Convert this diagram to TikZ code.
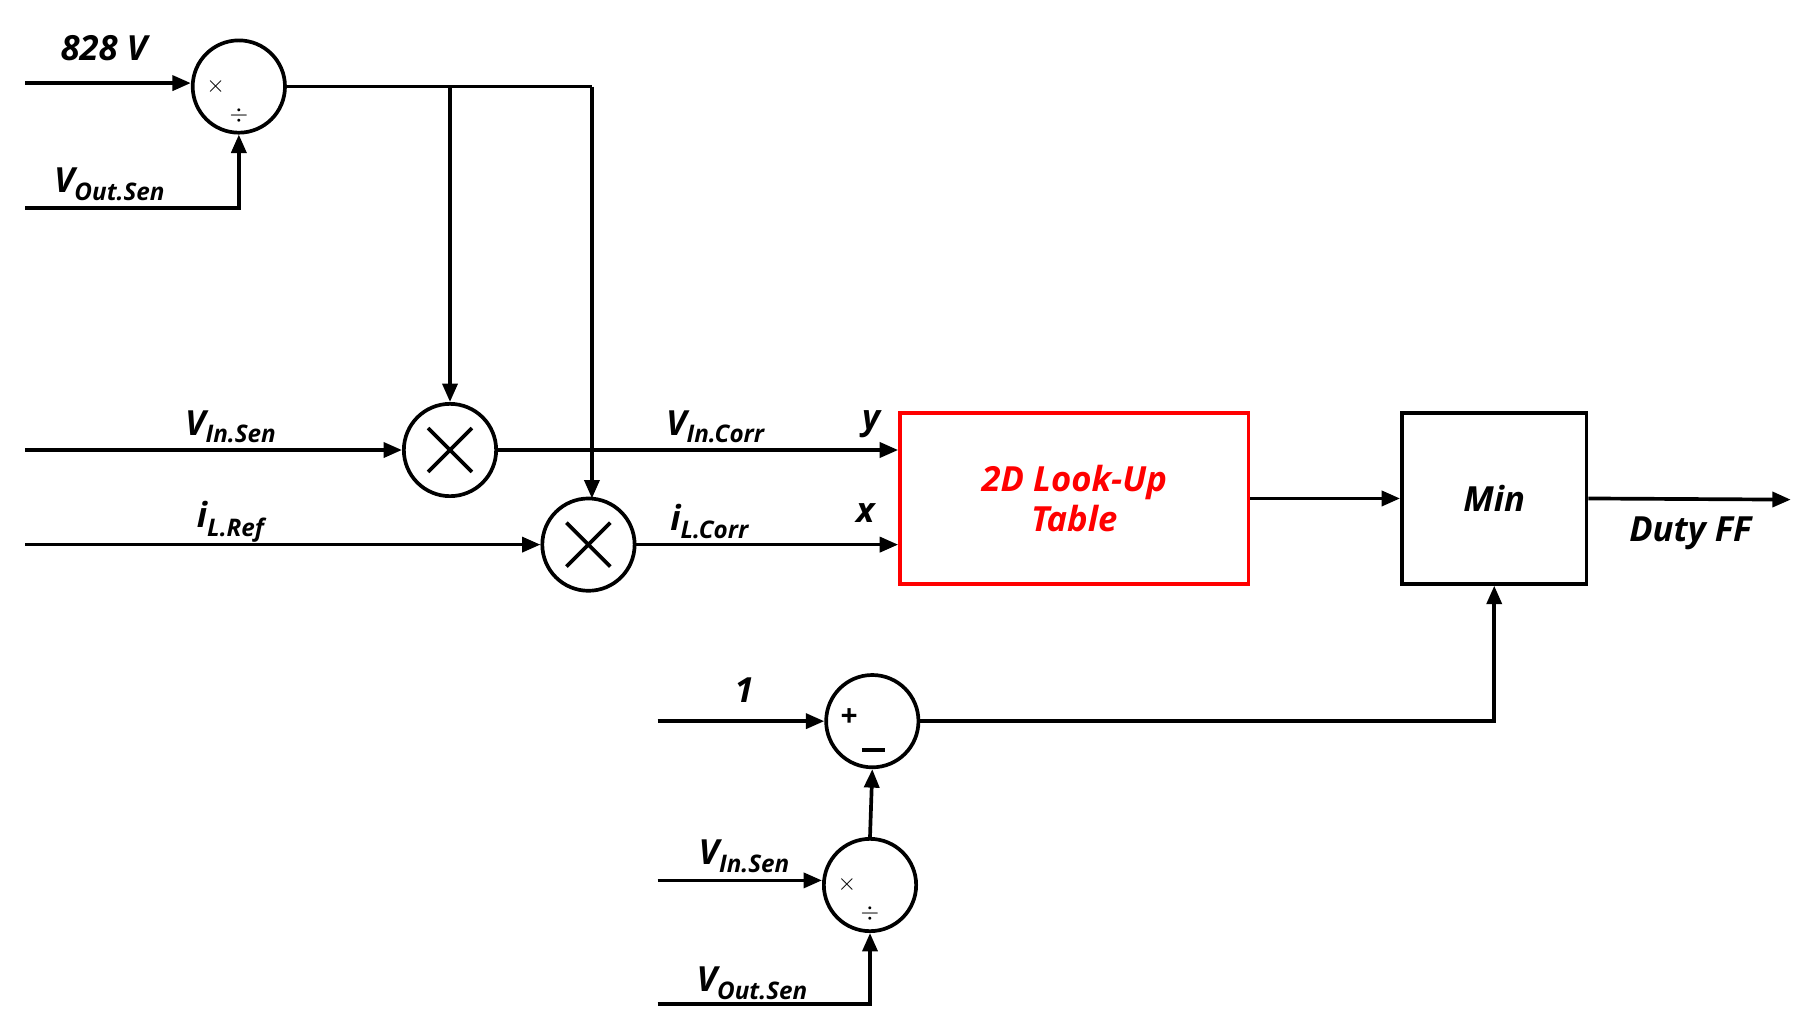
\documentclass[tikz,border=0pt]{standalone}
\usepackage{fontspec}
\setmainfont{Open Sans}
\usetikzlibrary{arrows.meta,calc}
\begin{document}
\begin{tikzpicture}[x=1pt,y=-1pt,line width=3.2pt,
  every node/.style={font=\fontsize{30}{34}\selectfont\bfseries\itshape},
  blk/.style={circle,draw,minimum size=80pt,inner sep=0pt},
  box/.style={draw,rectangle,inner sep=0pt},
  arr/.style={-{Triangle[length=16pt,width=13pt]}},
  lab/.style={inner sep=0pt}]
\useasboundingbox (0,0) rectangle (1560,889);
\node[blk] (d1) at (207,75) {};
\node[blk] (m1) at (390,390) {};
\node[blk] (m2) at (510,472) {};
\node[blk] (s1) at (756,625) {};
\node[blk] (d2) at (754,767) {};
\node[box,draw=red,minimum width=302pt,minimum height=148pt,text=red,align=center] (lut) at (931,432) {2D Look-Up\\Table};
\node[box,minimum width=160pt,minimum height=148pt] (mn) at (1295,432) {Min};
% signs
\node[lab,font=\fontsize{22}{24}\selectfont\bfseries] at ($(d1)+(-20,0)$) {$\times$};
\node[lab,font=\fontsize{22}{24}\selectfont\bfseries] at ($(d1)+(0,25)$) {$\div$};
\node[lab,font=\fontsize{22}{24}\selectfont\bfseries] at ($(d2)+(-20,0)$) {$\times$};
\node[lab,font=\fontsize{22}{24}\selectfont\bfseries] at ($(d2)+(0,25)$) {$\div$};
\node[lab,font=\fontsize{26}{28}\selectfont\bfseries] at ($(s1)+(-20,-3)$) {+};
\draw (747,650) -- (767,650);
\foreach \n in {m1,m2}{\draw ($(\n)+(-19,-19)$) -- ($(\n)+(19,19)$) ($(\n)+(-19,19)$) -- ($(\n)+(19,-19)$);}
% coordinates
\coordinate (a1) at (22,72);
\coordinate (a2) at (22,180);
\coordinate (a3) at (22,390);
\coordinate (a4) at (22,472);
\coordinate (a5) at (570,625);
\coordinate (a6) at (570,763);
\coordinate (a7) at (570,870);
\coordinate (o1) at (1552,433);
% connectors
\draw[arr] (a1) -- (d1.west|-a1);
\draw[arr] (a2) -| (d1.south);
\draw (d1.east) -- (513,75);
\draw[arr] (390,75) -- (m1.north);
\draw[arr] (513,75) -- (513,432);
\draw[arr] (a3) -- (m1.west);
\draw[arr] (a4) -- (m2.west);
\draw[arr] (m1.east) -- (lut.west|-m1);
\draw[arr] (m2.east) -- (lut.west|-m2);
\draw[arr] (lut.east) -- (mn.west);
\draw[arr] (mn.east) -- (o1);
\draw[arr] (s1.east) -| (mn.south);
\draw[arr] (a5) -- (s1.west);
\draw[arr] (a6) -- (d2.west|-a6);
\draw[arr] (a7) -| (d2.south);
\draw[arr] (d2.north) -- (s1.south);
% labels
\node[lab] at (90,42) {828 V};
\node[lab] at (95,160) {V\textsubscript{Out.Sen}};
\node[lab] at (200,370) {V\textsubscript{In.Sen}};
\node[lab] at (200,452) {i\textsubscript{L.Ref}};
\node[lab] at (620,370) {V\textsubscript{In.Corr}};
\node[lab] at (615,452) {i\textsubscript{L.Corr}};
\node[lab] at (755,368) {y};
\node[lab] at (750,445) {x};
\node[lab] at (1465,462) {Duty FF};
\node[lab] at (645,598) {1};
\node[lab] at (645,742) {V\textsubscript{In.Sen}};
\node[lab] at (652,852) {V\textsubscript{Out.Sen}};
\end{tikzpicture}
\end{document}
